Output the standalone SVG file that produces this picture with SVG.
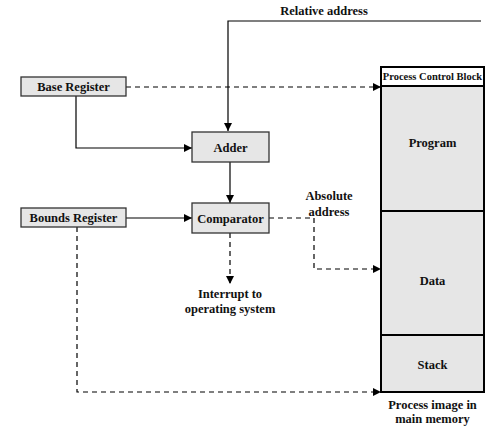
<svg xmlns="http://www.w3.org/2000/svg" width="486" height="429" viewBox="0 0 486 429">
<defs>
<marker id="ah" viewBox="0 0 10 10" refX="10" refY="5" markerWidth="8" markerHeight="8" markerUnits="userSpaceOnUse" orient="auto">
<path d="M0,0 L10,5 L0,10 z" fill="#000"/>
</marker>
<style>
text{font-family:"Liberation Serif","Times New Roman",serif;font-weight:bold;fill:#111;text-anchor:middle}
.box{fill:#e6e6e6;stroke:#333;stroke-width:1.3}
.mem{fill:#e6e6e6;stroke:#000;stroke-width:2}
.ln{fill:none;stroke:#000;stroke-width:1.2}
.ds{fill:none;stroke:#000;stroke-width:1.2;stroke-dasharray:5,4}
.t{font-size:12.5px}
</style>
</defs>
<rect width="486" height="429" fill="#fff"/>
<g id="connectors">
<path class="ln" d="M481,21 H228 V131" marker-end="url(#ah)"/>
<path class="ln" d="M76,96 V148 H192" marker-end="url(#ah)"/>
<path class="ln" d="M230,162 V203" marker-end="url(#ah)"/>
<path class="ln" d="M126,218 H192" marker-end="url(#ah)"/>
<path class="ds" d="M126,87 H381" marker-end="url(#ah)"/>
<path class="ds" d="M269,218 H314 V269 H381" marker-end="url(#ah)"/>
<path class="ds" d="M230,233 V284" marker-end="url(#ah)"/>
<path class="ds" d="M77,227 V392 H381" marker-end="url(#ah)"/>
</g>
<g id="relative-address"><text class="t" x="324" y="15">Relative address</text></g>
<g id="base-register">
<rect class="box" x="21" y="77" width="105" height="19"/>
<text class="t" x="73.5" y="91">Base Register</text>
</g>
<g id="adder">
<rect class="box" x="192" y="132" width="77" height="30"/>
<text class="t" x="230.5" y="151.5">Adder</text>
</g>
<g id="bounds-register">
<rect class="box" x="21" y="208" width="105" height="19"/>
<text class="t" x="73.5" y="222">Bounds Register</text>
</g>
<g id="comparator">
<rect class="box" x="192" y="203" width="77" height="30"/>
<text class="t" x="230.5" y="222.5">Comparator</text>
</g>
<g id="absolute-address">
<text class="t" x="329" y="200">Absolute</text>
<text class="t" x="329" y="215.5">address</text>
</g>
<g id="interrupt">
<text class="t" x="230" y="298">Interrupt to</text>
<text class="t" x="230" y="313">operating system</text>
</g>
<g id="process-image">
<rect x="381" y="67" width="103" height="19" fill="#fff" stroke="#000" stroke-width="2"/>
<text x="432.5" y="80" style="font-size:10.5px">Process Control Block</text>
<rect class="mem" x="381" y="86" width="103" height="125"/>
<text class="t" x="432.5" y="147">Program</text>
<rect class="mem" x="381" y="211" width="103" height="124"/>
<text class="t" x="432.5" y="285">Data</text>
<rect class="mem" x="381" y="335" width="103" height="57"/>
<text class="t" x="432.5" y="368.5">Stack</text>
<text class="t" x="432.5" y="409">Process image in</text>
<text class="t" x="432.5" y="423">main memory</text>
</g>
</svg>
